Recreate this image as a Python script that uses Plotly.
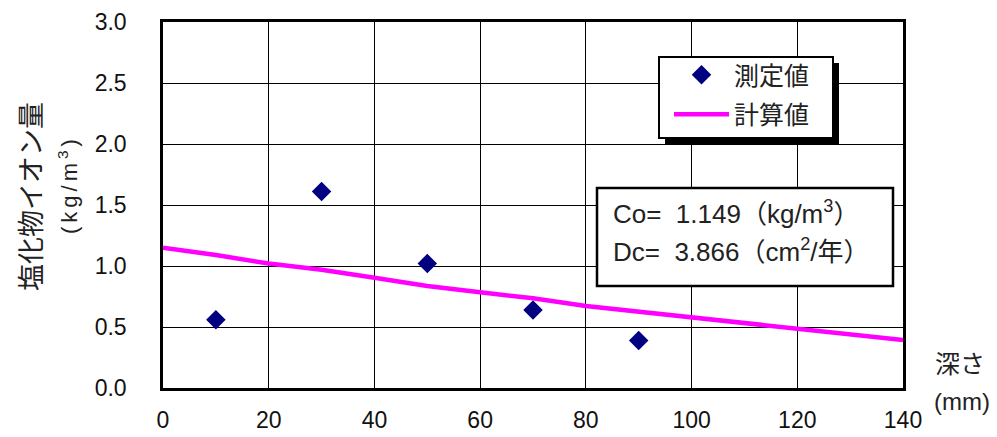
import plotly.graph_objects as go

# measured values
depth_meas = [10, 30, 50, 70, 90]
chloride_meas = [0.56, 1.61, 1.02, 0.64, 0.39]

# calculated curve
depth_calc = [0, 10, 20, 30, 40, 50, 60, 70, 80, 90, 100, 110, 120, 130, 140]
chloride_calc = [1.149, 1.09, 1.02, 0.97, 0.904, 0.836, 0.784, 0.735, 0.672,
                 0.625, 0.579, 0.53, 0.484, 0.434, 0.393]

x_ticks = [0, 20, 40, 60, 80, 100, 120, 140]
y_ticks = [0.0, 0.5, 1.0, 1.5, 2.0, 2.5, 3.0]

LAT = "Liberation Sans, Arial, Noto Sans CJK JP"
JP = "Noto Sans CJK JP, Liberation Sans"

fig = go.Figure()
fig.add_trace(go.Scatter(
    x=depth_meas, y=chloride_meas, mode="markers", name="測定値",
    legendgroup="a",
    marker=dict(symbol="diamond", size=15, color="#000080"),
))
fig.add_trace(go.Scatter(
    x=depth_calc, y=chloride_calc, mode="lines", name="計算値",
    legendgroup="b",
    line=dict(color="#FF00FF", width=4.5),
))

# page body has an 8px default margin -> compensate
OFF = 8
W, H = 997 - OFF, 437 - OFF
L, R, T, B = 163, 903, 22, 388  # plot area in screen pixels


def px(xp):
    return (xp - L) / (R - L)


def py(yp):
    return (B - yp) / (B - T)


fig.update_layout(
    width=W, height=H, autosize=False,
    margin=dict(l=L - OFF, r=W + OFF - R, t=T - OFF, b=H + OFF - B, pad=0),
    paper_bgcolor="white", plot_bgcolor="white",
    font=dict(family=LAT, size=23, color="#111111"),
    showlegend=True,
    legend=dict(
        x=px(669), y=py(52), xanchor="left", yanchor="top",
        bgcolor="rgba(0,0,0,0)", borderwidth=0,
        font=dict(family=JP, size=25, color="#222222"),
        itemwidth=55, traceorder="grouped", tracegroupgap=4,
    ),
    xaxis=dict(
        range=[0, 140], tickvals=x_ticks, ticktext=[str(v) for v in x_ticks],
        showgrid=True, gridcolor="black", gridwidth=1,
        showline=True, linecolor="black", linewidth=2.5, mirror=True,
        ticks="", zeroline=False, ticklabelstandoff=10, automargin=False,
        tickfont=dict(family=LAT, size=23, color="#111111"),
    ),
    yaxis=dict(
        range=[0, 3], tickvals=y_ticks, ticktext=[f"{v:.1f}" for v in y_ticks],
        showgrid=True, gridcolor="black", gridwidth=1,
        showline=True, linecolor="black", linewidth=2.5, mirror=True,
        ticks="", zeroline=False, ticklabelstandoff=29, automargin=False,
        tickfont=dict(family=LAT, size=23, color="#111111"),
    ),
    shapes=[
        # legend shadow
        dict(type="rect", xref="paper", yref="paper",
             x0=px(665), x1=px(839), y0=py(63), y1=py(144),
             fillcolor="black", line=dict(width=0), layer="above"),
        # legend box
        dict(type="rect", xref="paper", yref="paper",
             x0=px(659), x1=px(833), y0=py(57), y1=py(138),
             fillcolor="white", line=dict(color="black", width=2), layer="above"),
        # parameter box
        dict(type="rect", xref="paper", yref="paper",
             x0=px(597), x1=px(893), y0=py(188), y1=py(286),
             fillcolor="white", line=dict(color="black", width=2.5), layer="above"),
    ],
    annotations=[
        dict(text="Co=  1.149（kg/m<sup>3</sup>）", xref="paper", yref="paper",
             x=px(611), y=py(212), xanchor="left", yanchor="middle", showarrow=False,
             font=dict(family=LAT, size=26, color="#222222")),
        dict(text="Dc=  3.866（cm<sup>2</sup>/年）", xref="paper", yref="paper",
             x=px(611), y=py(251), xanchor="left", yanchor="middle", showarrow=False,
             font=dict(family=LAT, size=26, color="#222222")),
        dict(text="塩化物イオン量", xref="paper", yref="paper",
             x=px(29), y=py(197), xanchor="center", yanchor="middle", textangle=-90,
             showarrow=False, font=dict(family=JP, size=27, color="#222222")),
        dict(text='<span style="letter-spacing:4px">(kg/m<sup>3</sup>)</span>',
             xref="paper", yref="paper",
             x=px(68), y=py(185), xanchor="center", yanchor="middle", textangle=-90,
             showarrow=False, font=dict(family=LAT, size=22, color="#222222")),
        dict(text="深さ", xref="paper", yref="paper",
             x=px(960), y=py(362), xanchor="center", yanchor="middle",
             showarrow=False, font=dict(family=JP, size=25, color="#222222")),
        dict(text="(mm)", xref="paper", yref="paper",
             x=px(962), y=py(401), xanchor="center", yanchor="middle",
             showarrow=False, font=dict(family=LAT, size=24, color="#222222")),
    ],
)

fig.write_html("out.html")
